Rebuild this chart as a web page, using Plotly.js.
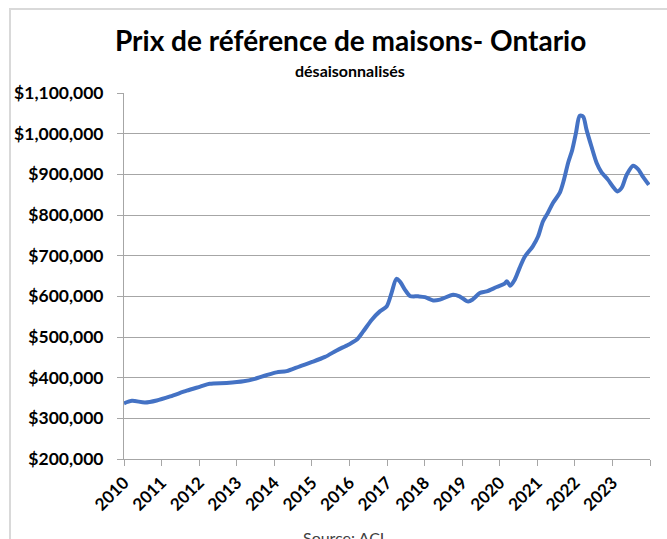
<!DOCTYPE html>
<html>
<head>
<meta charset="utf-8">
<script src="https://cdn.plot.ly/plotly-3.0.1.min.js"></script>
<style>
  html, body { margin: 0; padding: 0; background: #fff; overflow: hidden; }
  #frame { position: absolute; left: 9px; top: 8px; width: 700px; height: 600px; border: 2px solid #d9d9d9; box-sizing: border-box; }
  #chart { position: absolute; left: 0; top: 0; width: 667px; height: 539px; }
</style>
</head>
<body>
<div id="frame"></div>
<div id="chart"></div>
<script>
// Decimal-year positions of points
const years = [
  2010.00, 2010.21, 2010.56, 2010.87, 2011.23, 2011.67, 2012.03, 2012.28, 2012.73, 2013.18,
  2013.48, 2013.79, 2014.06, 2014.33, 2014.68, 2014.99, 2015.35, 2015.66, 2015.97, 2016.19,
  2016.37, 2016.59, 2016.81, 2016.99, 2017.12, 2017.25, 2017.34, 2017.48, 2017.61, 2017.83,
  2018.01, 2018.23, 2018.41, 2018.76, 2018.93, 2019.16, 2019.29, 2019.47, 2019.65, 2019.92,
  2020.13, 2020.19, 2020.28, 2020.40, 2020.53, 2020.67, 2020.88, 2021.02, 2021.15, 2021.28,
  2021.42, 2021.60, 2021.71, 2021.82, 2021.93, 2022.03, 2022.13, 2022.22, 2022.31, 2022.44,
  2022.58, 2022.71, 2022.88, 2023.02, 2023.13, 2023.24, 2023.38, 2023.55, 2023.68, 2023.82,
  2023.97
];
// Benchmark price (CAD), seasonally adjusted
const prices = [
  337000, 343000, 339000, 344000, 354000, 368000, 378000, 385000, 387000, 391000,
  397000, 406000, 413000, 416000, 428000, 438000, 451000, 467000, 481000, 493000,
  514000, 542000, 563000, 575000, 608000, 643000, 637000, 616000, 601000, 600000,
  598000, 590000, 592000, 604000, 600000, 587000, 593000, 608000, 612000, 623000,
  631000, 637000, 626000, 641000, 670000, 698000, 723000, 747000, 784000, 805000,
  830000, 855000, 887000, 928000, 960000, 1002000, 1044000, 1042000, 1010000, 969000,
  928000, 905000, 887000, 869000, 858000, 866000, 899000, 921000, 913000, 893000,
  874000
];
const yearTicks = [2010, 2011, 2012, 2013, 2014, 2015, 2016, 2017, 2018, 2019, 2020, 2021, 2022, 2023, 2024];
const yearLabels = ['2010','2011','2012','2013','2014','2015','2016','2017','2018','2019','2020','2021','2022','2023',''];
const yTicks = [200000, 300000, 400000, 500000, 600000, 700000, 800000, 900000, 1000000, 1100000];
const yLabels = ['$200,000','$300,000','$400,000','$500,000','$600,000','$700,000','$800,000','$900,000','$1,000,000','$1,100,000'];

const trace = {
  x: years, y: prices, type: 'scatter', mode: 'lines',
  line: { color: '#4472C4', width: 4, shape: 'spline', smoothing: 0.8 },
  hoverinfo: 'skip'
};

const layout = {
  width: 667, height: 539,
  margin: { l: 124, r: 17, t: 93, b: 80 },
  paper_bgcolor: 'rgba(0,0,0,0)', plot_bgcolor: 'rgba(0,0,0,0)',
  font: { family: 'Lato, sans-serif', color: '#000' },
  showlegend: false,
  xaxis: {
    type: 'linear', range: [2010, 2024],
    tickmode: 'array', tickvals: yearTicks, ticktext: yearLabels,
    tickangle: -45, tickfont: { family: 'Lato', size: 17, color: '#000', weight: 'bold' },
    ticks: 'outside', ticklen: 6, tickcolor: '#a6a6a6', tickwidth: 1,
    showline: true, linecolor: '#a6a6a6', linewidth: 1,
    showgrid: false, zeroline: false, fixedrange: true
  },
  yaxis: {
    range: [200000, 1100000],
    tickmode: 'array', tickvals: yTicks, ticktext: yLabels,
    tickfont: { family: 'Lato', size: 17.5, color: '#000', weight: 'bold' },
    ticks: 'outside', ticklen: 6, tickcolor: '#a6a6a6', tickwidth: 1,
    ticklabelstandoff: 10,
    showline: true, linecolor: '#a6a6a6', linewidth: 1,
    showgrid: true, gridcolor: '#a6a6a6', gridwidth: 1,
    zeroline: false, fixedrange: true
  },
  annotations: [
    { text: '<b>Prix de référence de maisons- Ontario</b>', xref: 'paper', yref: 'paper',
      x: 0.431, y: 1.145, xanchor: 'center', yanchor: 'middle', showarrow: false,
      font: { family: 'Lato', size: 28, color: '#000' } },
    { text: '<b>désaisonnalisés</b>', xref: 'paper', yref: 'paper',
      x: 0.429, y: 1.061, xanchor: 'center', yanchor: 'middle', showarrow: false,
      font: { family: 'Lato', size: 16, color: '#000' } },
    { text: 'Source: ACI', xref: 'paper', yref: 'paper',
      x: 0.418, y: -0.183, xanchor: 'center', yanchor: 'top', showarrow: false,
      font: { family: 'Lato', size: 16, color: '#404040' } }
  ]
};

Plotly.newPlot('chart', [trace], layout, { displayModeBar: false, staticPlot: true });
</script>
</body>
</html>
